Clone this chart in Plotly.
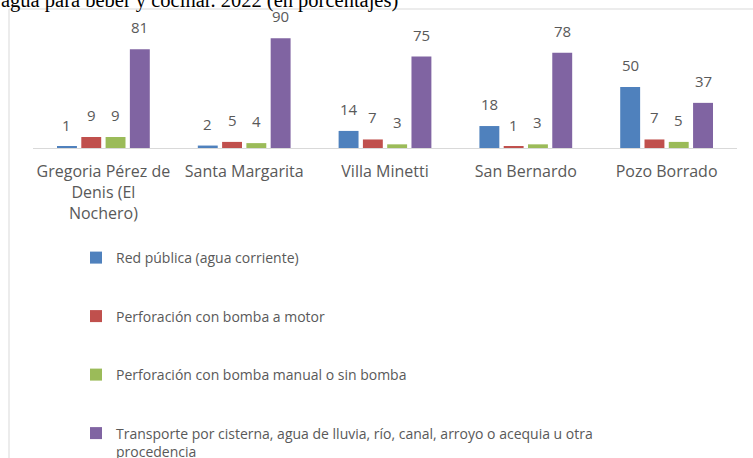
import plotly.graph_objects as go

categories = ["Gregoria Pérez de<br>Denis (El<br>Nochero)", "Santa Margarita", "Villa Minetti",
              "San Bernardo", "Pozo Borrado"]
series_names = ["Red pública (agua corriente)",
                "Perforación con bomba a motor",
                "Perforación con bomba manual o sin bomba",
                "Transporte por cisterna, agua de lluvia, río, canal, arroyo o acequia u otra<br>procedencia"]
red_publica = [1, 2, 14, 18, 50]
bomba_motor = [9, 5, 7, 1, 7]
bomba_manual = [9, 4, 3, 3, 5]
transporte = [81, 90, 75, 78, 37]
colors = ["#4F81BD", "#C0504D", "#9BBB59", "#8064A2"]
title_text = "agua para beber y cocinar. 2022 (en porcentajes)"

series_values = [red_publica, bomba_motor, bomba_manual, transporte]

W, H = 753, 458
PL, PR, PT, PB = 33, 737, 26, 148          # plot area in window pixels
ML, MT = PL, PT
MR = W - PR
MB = H - PB
BARGAP = 0.31
BARGROUPGAP = 0.18
FONT = "Open Sans"
GRAY = "#595959"

fig = go.Figure()
for i, (name, vals) in enumerate(zip(series_names, series_values)):
    fig.add_trace(go.Bar(
        x=categories, y=vals, name=name, legendgroup=str(i),
        marker=dict(color=colors[i], line=dict(width=0)),
    ))

plot_w = PR - PL
plot_h = PB - PT
cat_px = plot_w / len(categories)
slot_px = cat_px * (1 - BARGAP) / len(series_values)
annotations = []
for i, vals in enumerate(series_values):
    off = (i - (len(series_values) - 1) / 2) * slot_px
    for c, v in zip(categories, vals):
        annotations.append(dict(
            x=c, y=v, xref="x", yref="y", text=str(v), showarrow=False,
            xshift=off, yanchor="bottom", yshift=10,
            font=dict(family=FONT, size=15, color=GRAY),
        ))

annotations.append(dict(
    x=0, y=1, xref="paper", yref="paper", xanchor="left", yanchor="bottom",
    xshift=-PL - 1, yshift=12, text=title_text, showarrow=False,
    font=dict(family="Liberation Serif", size=20.5, color="#000000"),
))

px2x = lambda p: (p - PL) / plot_w
px2y = lambda p: (PB - p) / plot_h
shapes = [
    dict(type="line", xref="paper", yref="paper", x0=px2x(9), x1=px2x(9),
         y0=px2y(470), y1=px2y(9), line=dict(color="#D9D9D9", width=1)),
    dict(type="line", xref="paper", yref="paper", x0=px2x(9), x1=px2x(770),
         y0=px2y(9), y1=px2y(9), line=dict(color="#D9D9D9", width=1)),
]

fig.update_layout(
    width=W, height=H,
    margin=dict(l=ML, r=MR, t=MT, b=MB, pad=0, autoexpand=False),
    paper_bgcolor="white", plot_bgcolor="white",
    barmode="group", bargap=BARGAP, bargroupgap=BARGROUPGAP,
    showlegend=True,
    legend=dict(orientation="v", x=px2x(76), y=px2y(242), xanchor="left", yanchor="top",
                traceorder="grouped", tracegroupgap=37.3, valign="top", maxheight=600,
                font=dict(family=FONT, size=14, color=GRAY), bgcolor="rgba(0,0,0,0)"),
    annotations=annotations,
    shapes=shapes,
    font=dict(family=FONT, color=GRAY),
)
fig.update_xaxes(showline=True, linecolor="#D9D9D9", linewidth=1, ticks="",
                 tickfont=dict(family=FONT, size=16, color=GRAY), ticklabelstandoff=9,
                 showgrid=False, zeroline=False, fixedrange=True, automargin=False)
fig.update_yaxes(range=[0, 100], visible=False, showgrid=False, zeroline=False, automargin=False)

fig.write_html("out.html", config={"displayModeBar": False},
               post_script="document.body.style.margin='0';document.body.style.overflow='hidden';")
